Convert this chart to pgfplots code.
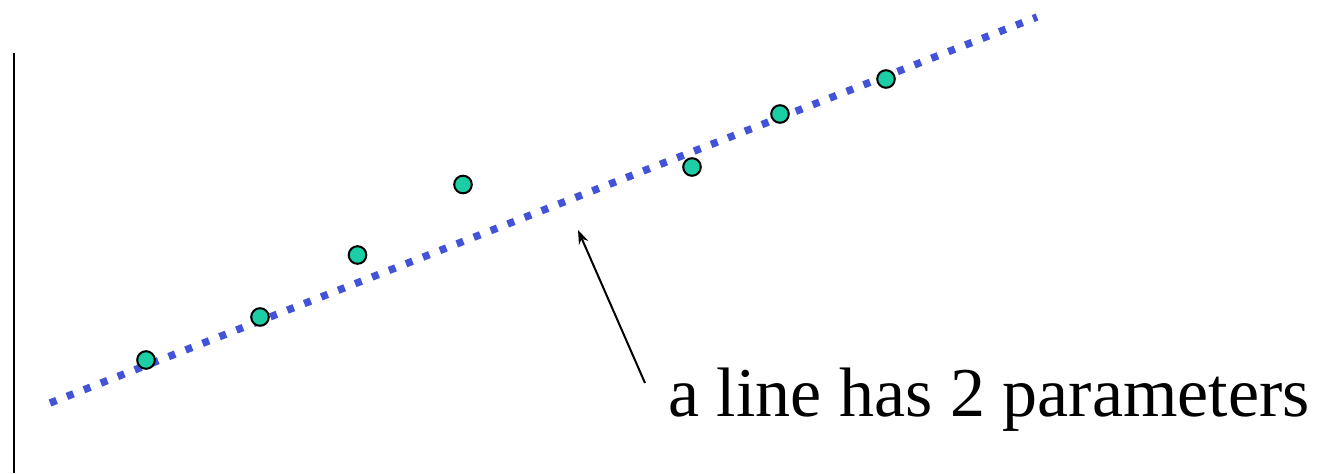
\documentclass[border=0pt]{standalone}
\usepackage{fontspec}
\setmainfont{Liberation Serif}
\usepackage{pgfplots}
\pgfplotsset{compat=1.18}
\usetikzlibrary{arrows.meta}
\definecolor{lineblue}{RGB}{67,83,216}
\definecolor{teal}{RGB}{28,206,166}
\begin{document}
\begin{tikzpicture}
\begin{axis}[
  hide axis, scale only axis,
  width=660pt, height=236.5pt,
  xmin=0, xmax=1320, ymin=0, ymax=473,
  clip=false,
]
\coordinate (ll) at (rel axis cs:0,0);
\coordinate (ur) at (rel axis cs:1,1);
% vertical axis line
\addplot[black, line width=1pt] coordinates {(14,0) (14,420)};
% data points
\addplot[only marks, mark=*, mark size=4.4pt, mark options={fill=teal, draw=black, line width=1pt}]
  coordinates {(146,113) (260,156) (357.5,218) (463,288.5) (692,306) (780,359) (886,394)};
% fitted line
\addplot[lineblue, line width=3.7pt, dash pattern=on 3.5pt off 5.6pt] coordinates {(50,70) (1037,456)};
% annotation
\draw[-{Stealth[length=7pt,width=5pt]}, line width=1pt] (axis cs:645,90) -- (axis cs:578,243);
\node[anchor=base west, inner sep=0pt, font=\fontsize{35pt}{40pt}\selectfont] at (axis cs:668,57) {a line has 2 parameters};
\end{axis}
\pgfresetboundingbox
\useasboundingbox (ll) rectangle (ur);
\end{tikzpicture}
\end{document}
